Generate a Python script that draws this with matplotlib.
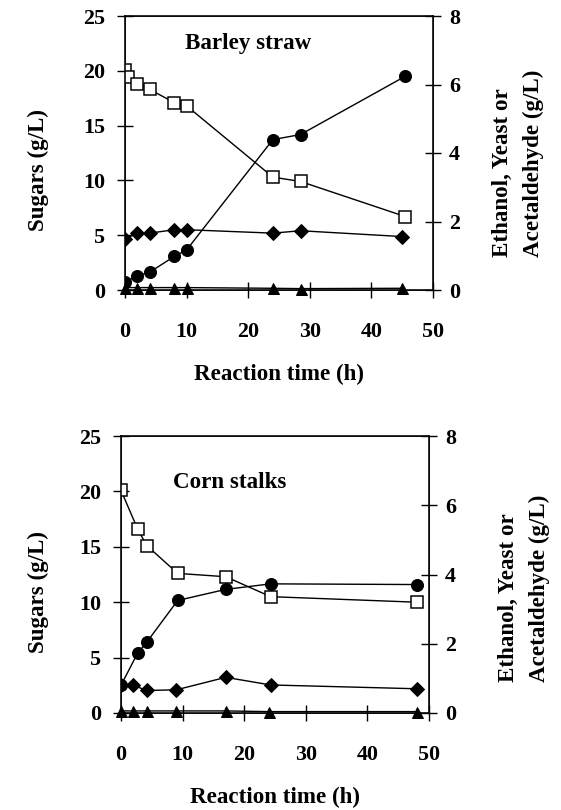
import numpy as np
import matplotlib
matplotlib.use('Agg')
import matplotlib.pyplot as plt

plt.rcParams['font.family'] = ['Liberation Serif', 'DejaVu Serif']
plt.rcParams['font.weight'] = 'bold'

# Barley straw
barley_sugar_t = [0, 0.5, 2, 4, 8, 10, 24, 28.5, 45.5]
barley_sugar = [20.1, 19.4, 18.8, 18.3, 17.1, 16.8, 10.3, 9.9, 6.7]
barley_etoh_t = [0, 2, 4, 8, 10, 24, 28.5, 45.5]
barley_etoh = [0.22, 0.42, 0.52, 0.98, 1.17, 4.39, 4.54, 6.24]
barley_yeast_t = [0, 2, 4, 8, 10, 24, 28.5, 45]
barley_yeast = [1.49, 1.66, 1.66, 1.76, 1.76, 1.66, 1.73, 1.56]
barley_acet_t = [0, 2, 4, 8, 10, 24, 28.5, 45]
barley_acet = [0.07, 0.07, 0.07, 0.07, 0.07, 0.05, 0.04, 0.05]

# Corn stalks
corn_sugar_t = [0, 2.7, 4.2, 9.2, 17, 24.3, 48]
corn_sugar = [20.1, 16.6, 15.1, 12.6, 12.3, 10.5, 10.0]
corn_etoh_t = [0, 2.7, 4.2, 9.2, 17, 24.3, 48]
corn_etoh = [0.80, 1.73, 2.05, 3.25, 3.57, 3.73, 3.71]
corn_yeast_t = [0, 2, 4.2, 9, 17, 24.3, 48]
corn_yeast = [0.80, 0.80, 0.65, 0.67, 1.03, 0.81, 0.70]
corn_acet_t = [0, 2, 4.2, 9, 17, 24, 48]
corn_acet = [0.06, 0.06, 0.06, 0.06, 0.06, 0.04, 0.04]

W, H = 561, 810
fig = plt.figure(figsize=(W / 72, H / 72), dpi=72)

FS = 22   # tick labels
LFS = 23  # axis labels and titles


def px(x0, y0, x1, y1):
    return [x0 / W, 1 - y1 / H, (x1 - x0) / W, (y1 - y0) / H]


def panel(rect, title, title_xy, sugar, etoh, yeast, acet, ylab_y, rlab_xy):
    ax = fig.add_axes(px(*rect))
    ax2 = ax.twinx()
    lw = 1.4
    ax.plot(sugar[0], sugar[1], '-s', color='black', mfc='white', mec='black',
            ms=12, mew=1.5, lw=lw, zorder=3)
    ax2.plot(etoh[0], etoh[1], '-o', color='black', ms=12, lw=lw, zorder=3)
    ax2.plot(yeast[0], yeast[1], '-D', color='black', ms=9.5, lw=lw, zorder=3)
    ax2.plot(acet[0], acet[1], '-^', color='black', ms=11, lw=lw, zorder=3,
             clip_on=False)
    for s in ax.spines.values():
        s.set_linewidth(1.6)
    ax.set_xlim(0, 50)
    ax.set_ylim(0, 25)
    ax2.set_ylim(0, 8)
    ax.set_xticks(np.arange(0, 51, 10))
    ax.set_yticks(np.arange(0, 26, 5))
    ax2.set_yticks(np.arange(0, 9, 2))
    ax.tick_params(axis='x', direction='inout', length=16, width=1.4,
                   labelsize=FS, pad=24)
    ax.tick_params(axis='y', direction='inout', length=16, width=1.4,
                   labelsize=FS, pad=12)
    ax2.tick_params(axis='y', direction='inout', length=16, width=1.4,
                    labelsize=FS, pad=8)
    for a in (ax, ax2):
        for lbl in a.get_xticklabels() + a.get_yticklabels():
            lbl.set_fontweight('bold')
    ax.set_xlabel('Reaction time (h)', fontsize=LFS, fontweight='bold',
                  labelpad=22)
    fig.text(title_xy[0] / W, 1 - title_xy[1] / H, title, fontsize=LFS,
             fontweight='bold', ha='left', va='center')
    fig.text(38 / W, 1 - ylab_y / H, 'Sugars (g/L)', rotation=90,
             fontsize=LFS, fontweight='bold', ha='center', va='center')
    fig.text(rlab_xy[0] / W, 1 - rlab_xy[1] / H,
             'Ethanol, Yeast or\nAcetaldehyde (g/L)', rotation=90,
             fontsize=LFS, fontweight='bold', ha='center', va='bottom',
             multialignment='left', linespacing=1.6)
    return ax


panel((125, 16, 433, 290), 'Barley straw', (185, 43),
      (barley_sugar_t, barley_sugar), (barley_etoh_t, barley_etoh),
      (barley_yeast_t, barley_yeast), (barley_acet_t, barley_acet),
      170, (518, 257))
panel((121, 436, 429, 713), 'Corn stalks', (173, 483),
      (corn_sugar_t, corn_sugar), (corn_etoh_t, corn_etoh),
      (corn_yeast_t, corn_yeast), (corn_acet_t, corn_acet),
      592, (524, 682))

fig.savefig('out.png', dpi=72)
